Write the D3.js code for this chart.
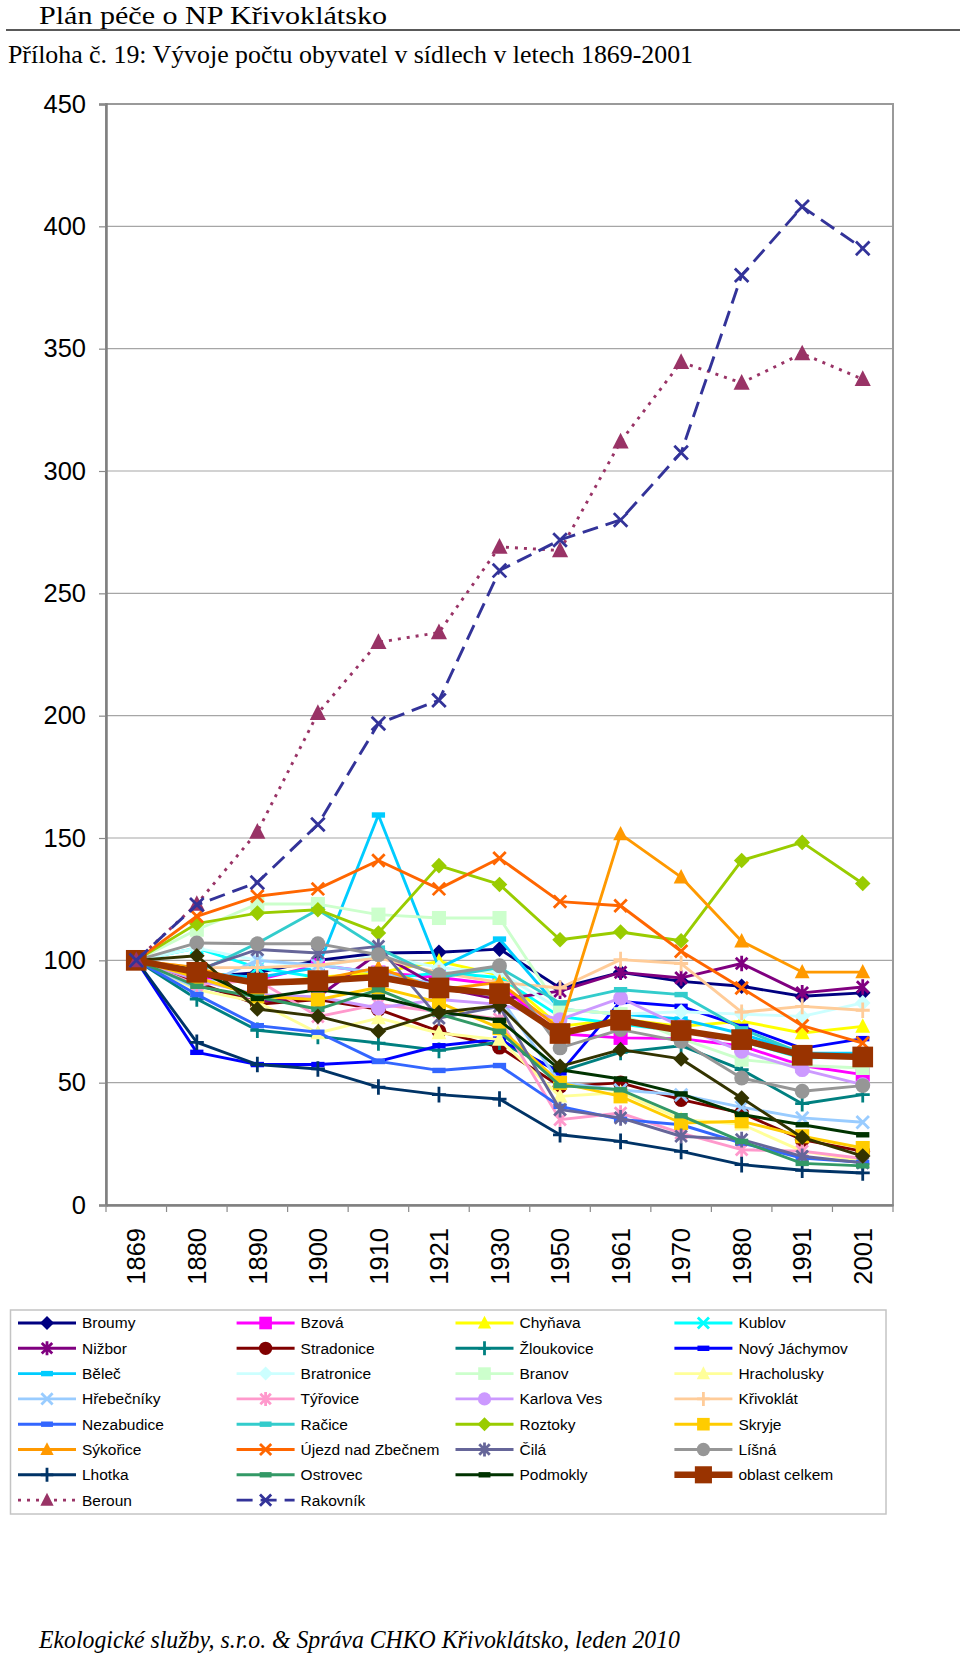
<!DOCTYPE html>
<html><head><meta charset="utf-8">
<script src="https://cdn.jsdelivr.net/npm/d3@7"></script>
<style>body{margin:0;background:#fff}svg{display:block}</style>
</head><body>
<svg id="c" width="960" height="1655"></svg>
<script>
// ---------- data ----------
const years = ["1869","1880","1890","1900","1910","1921","1930","1950","1961","1970","1980","1991","2001"];
const yTicks = [0,50,100,150,200,250,300,350,400,450];

const broumy      = [100, 93, 95, 100, 103, 103.3, 104.6, 88.7, 95.1, 91.4, 89.4, 85.3, 86.7];
const bzova       = [100, 93, 92, 98, 95, 93, 90, 70, 68.3, 68, 65, 57, 53.3];
const chynava     = [100, 95, 90, 93, 95, 99.6, 94, 73, 76, 73, 75.1, 70.3, 73];
const kublov      = [100, 105, 97, 93, 92, 95, 93, 77, 74, 71, 67, 60, 61];
const nizbor      = [100, 90, 83, 85, 103, 89, 84, 87.4, 95.1, 92.8, 98.7, 86.7, 89.1];
const stradonice  = [100, 91, 82, 84, 80, 71, 64.5, 48.5, 49.9, 43.1, 37.6, 26.7, 21.9];
const zloukovice  = [100, 84.2, 71.4, 68.9, 66.2, 63.2, 66.5, 54.6, 62.4, 65.1, 55.3, 41.4, 45.1];
const novyJachymov= [100, 62.4, 57.4, 57.4, 58.7, 65.1, 67.8, 54, 83.2, 81.2, 73, 64, 68];
const belec       = [100, 95, 93, 97, 159.4, 96.9, 108.7, 80, 78, 76, 70, 62, 62];
const bratronice  = [100, 105, 100, 97, 102, 97, 95, 80, 78, 79, 78, 77.1, 82.6];
const branov      = [100, 112.5, 123, 123, 118.7, 117.3, 117.3, 80, 78, 68, 59.4, 57, 56];
const hracholusky = [100, 88, 83, 70.3, 76.4, 70.3, 67.6, 44.4, 46, 35, 33, 22, 18];
const hrebecniky  = [100, 88.7, 100, 98, 95, 90, 85, 50, 47, 45, 40, 35.6, 33.8];
const tyrovice    = [100, 90, 92, 77, 82, 79, 76, 34.9, 37.6, 29.4, 22.6, 22, 19];
const karlovaVes  = [100, 92, 86, 85, 80.5, 84, 82, 75.8, 84.6, 73, 62.8, 55.3, 49.2];
const krivoklat   = [100, 97, 97, 98, 101, 95, 91, 88.7, 100.3, 98.7, 78.8, 81.2, 79.6];
const nezabudice  = [100, 86, 73.3, 70.6, 58.7, 55, 57, 40.3, 35, 32.8, 25.3, 19.2, 17.4];
const racice      = [100, 95, 107, 120.7, 105, 93, 97, 82.6, 88, 86, 72, 62, 60];
const roztoky     = [100, 115, 119.3, 120.7, 111.2, 138.7, 131, 108.4, 111.6, 108, 140.8, 148.2, 131.4];
const skryje      = [100, 93, 85.3, 83.9, 89, 82.8, 72.3, 49.9, 44.4, 33.5, 34.2, 28.1, 23.3];
const sykorice    = [100, 97, 90, 92, 97, 88, 91, 72, 151.6, 134, 107.8, 95.2, 95.2];
const ujezd       = [100, 118, 126.2, 129.2, 140.8, 129.2, 141.7, 124, 122.3, 103.7, 88.7, 73.3, 66.2];
const cila        = [100, 96, 104.4, 103, 105.7, 76.4, 81.2, 39, 35.6, 28.1, 26.7, 19.9, 17.2];
const lisna       = [100, 107.1, 106.8, 106.8, 102.3, 94.1, 97.8, 64.2, 71.7, 66.9, 51.9, 46.5, 48.8];
const lhotka      = [100, 66.5, 57.4, 55.6, 48.2, 45.1, 43.3, 28.7, 26, 21.9, 16.5, 14.2, 13.1];
const ostrovec    = [100, 89.4, 85, 80, 88, 78, 71, 48.8, 47.1, 36.5, 26, 17, 16];
const podmokly    = [100, 96, 84.4, 88, 85, 79, 75.5, 55.3, 51.5, 45.4, 37, 32.8, 28.7];
const unnamed     = [100, 101.9, 80.1, 77.1, 71, 78.7, 81.5, 56.7, 63.5, 59.7, 43.7, 27.6, 20];
const oblast      = [100, 95.1, 90.7, 91.7, 93.2, 88.7, 86.4, 70.1, 75.5, 71.3, 67.6, 61.2, 60.5];
const beroun      = [100, 123, 152.5, 201, 230, 234, 269, 267.5, 312, 344.5, 336, 348, 337.5];
const rakovnik    = [100, 122.7, 131.8, 155.5, 196.8, 206.3, 259.3, 271.8, 280, 307.5, 380, 408, 391];

const seriesNames = ["Broumy","Bzová","Chyňava","Kublov","Nižbor","Stradonice","Žloukovice","Nový Jáchymov",
  "Běleč","Bratronice","Branov","Hracholusky","Hřebečníky","Týřovice","Karlova Ves","Křivoklát",
  "Nezabudice","Račice","Roztoky","Skryje","Sýkořice","Újezd nad Zbečnem","Čilá","Líšná",
  "Lhotka","Ostrovec","Podmokly","","oblast celkem","Beroun","Rakovník"];
const seriesValues = [broumy,bzova,chynava,kublov,nizbor,stradonice,zloukovice,novyJachymov,
  belec,bratronice,branov,hracholusky,hrebecniky,tyrovice,karlovaVes,krivoklat,
  nezabudice,racice,roztoky,skryje,sykorice,ujezd,cila,lisna,
  lhotka,ostrovec,podmokly,unnamed,oblast,beroun,rakovnik];

// ---------- styles ----------
const styles = [
  {c:"#000080",m:"diamond"},{c:"#FF00FF",m:"square"},{c:"#FFFF00",m:"triangle"},{c:"#00FFFF",m:"x"},
  {c:"#800080",m:"star"},{c:"#800000",m:"circle"},{c:"#008080",m:"plus"},{c:"#0000FF",m:"dash"},
  {c:"#00CCFF",m:"dash"},{c:"#CCFFFF",m:"diamond"},{c:"#CCFFCC",m:"square"},{c:"#FFFF99",m:"triangle"},
  {c:"#99CCFF",m:"x"},{c:"#FF99CC",m:"star"},{c:"#CC99FF",m:"circle"},{c:"#FFCC99",m:"plus"},
  {c:"#3366FF",m:"dash"},{c:"#33CCCC",m:"dash"},{c:"#99CC00",m:"diamond"},{c:"#FFCC00",m:"square"},
  {c:"#FF9900",m:"triangle"},{c:"#FF6600",m:"x"},{c:"#666699",m:"star"},{c:"#969696",m:"circle"},
  {c:"#003366",m:"plus"},{c:"#339966",m:"dash"},{c:"#003300",m:"dash"},{c:"#333300",m:"diamond"},
  {c:"#993300",m:"square",w:6.5,s:11.5},{c:"#993366",m:"triangle",dash:"3,6",s:8.5},{c:"#333399",m:"x",dash:"16,8",s:8.5}
];

const svg = d3.select("#c");
const serif = "'Liberation Serif','Times New Roman',serif";
const sans = "'Liberation Sans',Arial,sans-serif";

// ---------- header / footer ----------
svg.append("text").attr("x",39).attr("y",24).attr("font-family",serif).attr("font-size",26)
  .attr("textLength",348).attr("lengthAdjust","spacingAndGlyphs").text("Plán péče o NP Křivoklátsko");
svg.append("line").attr("x1",6).attr("x2",960).attr("y1",30).attr("y2",30).attr("stroke","#222").attr("stroke-width",1.5);
svg.append("text").attr("x",8).attr("y",63).attr("font-family",serif).attr("font-size",25)
  .attr("textLength",685).attr("lengthAdjust","spacingAndGlyphs").text("Příloha č. 19: Vývoje počtu obyvatel v sídlech v letech 1869-2001");
svg.append("text").attr("x",39).attr("y",1648).attr("font-family",serif).attr("font-style","italic").attr("font-size",25)
  .attr("textLength",641).attr("lengthAdjust","spacingAndGlyphs").text("Ekologické služby, s.r.o. & Správa CHKO Křivoklátsko, leden 2010");

// ---------- scales ----------
const L=106, R=893, T=104, B=1205;
const x = d3.scaleBand().domain(years).range([L,R]).padding(0);
const xc = d => x(d) + x.bandwidth()/2;
const y = d3.scaleLinear().domain([0,450]).range([B,T]);

// gridlines
svg.append("g").selectAll("line").data(yTicks.filter(v=>v>0)).join("line")
  .attr("x1",L).attr("x2",R).attr("y1",d=>y(d)).attr("y2",d=>y(d))
  .attr("stroke","#a6a6a6").attr("stroke-width",1.2);
// plot border
svg.append("rect").attr("x",L).attr("y",T).attr("width",R-L).attr("height",B-T)
  .attr("fill","none").attr("stroke","#9a9a9a").attr("stroke-width",2);

// y axis
const ya = svg.append("g").attr("transform",`translate(${L},0)`)
  .call(d3.axisLeft(y).tickValues(yTicks).tickSize(7).tickPadding(13).tickFormat(d3.format("d")));
ya.select(".domain").attr("stroke","#808080").attr("stroke-width",2.5);
ya.selectAll(".tick line").attr("stroke","#8a8a8a").attr("stroke-width",1.2);
ya.selectAll("text").attr("font-family",sans).attr("font-size",25.5).attr("fill","#000");

// x axis
const xa = svg.append("g").attr("transform",`translate(0,${B})`)
  .call(d3.axisBottom(x).tickSize(0).tickPadding(0));
xa.select(".domain").attr("stroke","#808080").attr("stroke-width",2.5);
xa.selectAll("text").attr("font-family",sans).attr("font-size",25.5).attr("fill","#000")
  .attr("transform","rotate(-90)").attr("text-anchor","end").attr("x",-23).attr("y",0).attr("dy","0.36em");
svg.append("g").selectAll("line").data(years.map(d=>x(d)).concat([R])).join("line")
  .attr("x1",d=>d).attr("x2",d=>d).attr("y1",B).attr("y2",B+7)
  .attr("stroke","#8a8a8a").attr("stroke-width",1.2);

// ---------- markers ----------
function marker(g, type, color, s){
  const sw = 2.8;
  switch(type){
    case "diamond": g.append("path").attr("d",`M0,${-s}L${s},0L0,${s}L${-s},0Z`).attr("fill",color); break;
    case "square": g.append("rect").attr("x",-s*0.9).attr("y",-s*0.9).attr("width",s*1.8).attr("height",s*1.8).attr("fill",color); break;
    case "triangle": g.append("path").attr("d",`M0,${-s*1.05}L${s*0.95},${s*0.8}L${-s*0.95},${s*0.8}Z`).attr("fill",color); break;
    case "circle": g.append("circle").attr("r",s*0.95).attr("fill",color); break;
    case "x": g.append("path").attr("d",`M${-s*0.8},${-s*0.8}L${s*0.8},${s*0.8}M${-s*0.8},${s*0.8}L${s*0.8},${-s*0.8}`).attr("stroke",color).attr("stroke-width",sw).attr("fill","none"); break;
    case "star": g.append("path").attr("d",`M${-s*0.75},${-s*0.75}L${s*0.75},${s*0.75}M${-s*0.75},${s*0.75}L${s*0.75},${-s*0.75}M0,${-s}L0,${s}`).attr("stroke",color).attr("stroke-width",sw).attr("fill","none"); break;
    case "plus": g.append("path").attr("d",`M${-s*0.9},0L${s*0.9},0M0,${-s}L0,${s}`).attr("stroke",color).attr("stroke-width",sw).attr("fill","none"); break;
    case "dash": g.append("rect").attr("x",-s*0.85).attr("y",-2.7).attr("width",s*1.7).attr("height",5.4).attr("fill",color); break;
  }
}

// ---------- series ----------
const line = d3.line().x((d,i)=>xc(years[i])).y(d=>y(d));
const plot = svg.append("g");
seriesValues.forEach((vals,k)=>{
  const st = styles[k];
  const g = plot.append("g");
  g.append("path").datum(vals).attr("d",line).attr("fill","none")
    .attr("stroke",st.c).attr("stroke-width",st.w||2.9).attr("stroke-linejoin","round")
    .attr("stroke-dasharray",st.dash||null);
  g.selectAll("g.m").data(vals).join("g").attr("class","m")
    .attr("transform",(d,i)=>`translate(${xc(years[i])},${y(d)})`)
    .each(function(){ marker(d3.select(this), st.m, st.c, st.s||7.8); });
});

// ---------- legend ----------
const legendItems = seriesNames.map((n,k)=>({n,k})).filter(d=>d.n!=="");
const lg = svg.append("g");
lg.append("rect").attr("x",10.5).attr("y",1310).attr("width",875.5).attr("height",204)
  .attr("fill","#fff").attr("stroke","#c4c4c4").attr("stroke-width",1.5);
const colX = [82, 300.6, 519.5, 738.4];
const li = lg.selectAll("g.li").data(legendItems).join("g").attr("class","li")
  .attr("transform",(d,i)=>`translate(${colX[i%4]},${1323 + Math.floor(i/4)*25.3})`);
li.each(function(d){
  const st = styles[d.k];
  const g = d3.select(this);
  g.append("line").attr("x1",-64).attr("x2",-6).attr("y1",0).attr("y2",0)
    .attr("stroke",st.c).attr("stroke-width",st.w||2.9).attr("stroke-dasharray",st.dash||null);
  const mg = g.append("g").attr("transform","translate(-35,0)");
  marker(mg, st.m, st.c, st.w ? 9.5 : 7);
  g.append("text").attr("x",0).attr("y",0).attr("dy","0.35em").attr("font-family",sans)
    .attr("font-size",15.5).attr("fill","#000").text(d.n);
});
</script>
</body></html>
